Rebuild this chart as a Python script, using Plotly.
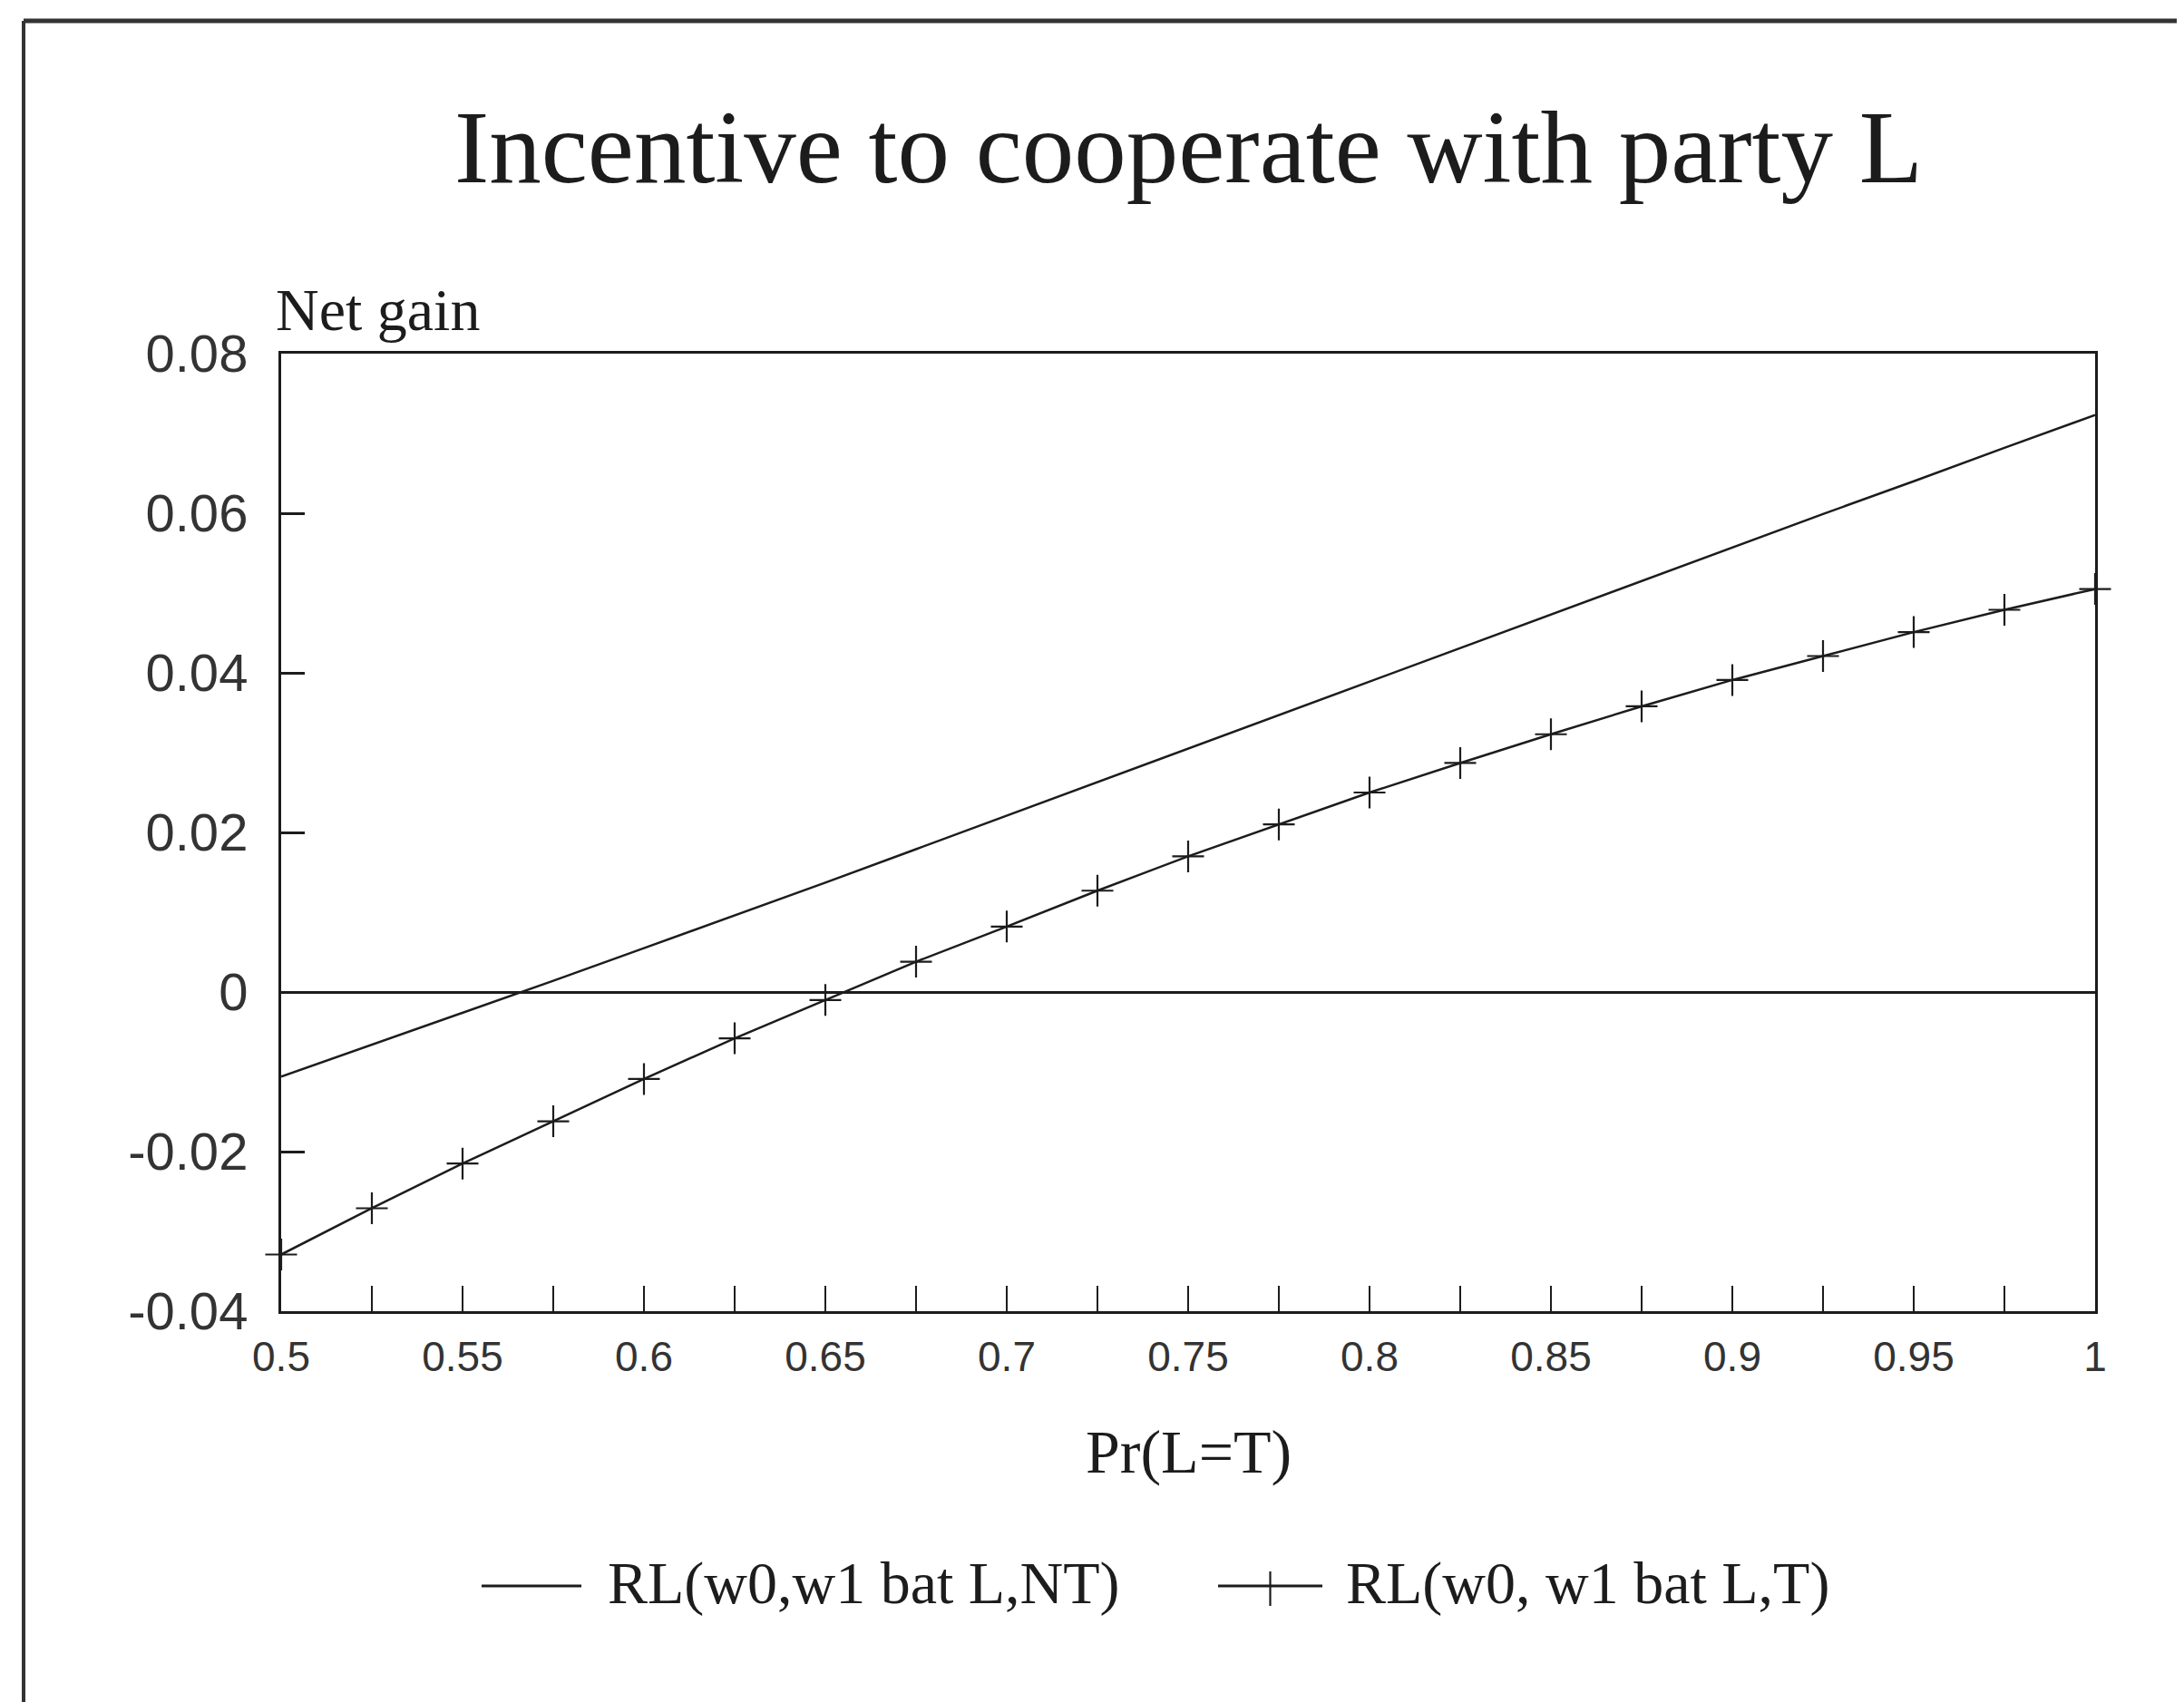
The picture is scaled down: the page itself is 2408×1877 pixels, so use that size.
import plotly.graph_objects as go

# ---- data ----
pr_lt = [0.5, 0.525, 0.55, 0.575, 0.6, 0.625, 0.65, 0.675, 0.7, 0.725, 0.75,
         0.775, 0.8, 0.825, 0.85, 0.875, 0.9, 0.925, 0.95, 0.975, 1.0]
rl_nt = [-0.0106, -0.0066, -0.0026, 0.0014, 0.0055, 0.0096, 0.0137, 0.0179, 0.0221,
         0.0263, 0.0305, 0.0347, 0.0389, 0.0431, 0.0473, 0.0515, 0.0557, 0.0599,
         0.0640, 0.0682, 0.0723]
rl_t = [-0.0329, -0.0271, -0.0215, -0.0162, -0.0109, -0.0058, -0.0010, 0.0038, 0.0082,
        0.0127, 0.0170, 0.0210, 0.0250, 0.0287, 0.0323, 0.0358, 0.0391, 0.0421,
        0.0451, 0.0479, 0.0505]
series_names = ["RL(w0,w1 bat L,NT)", "RL(w0, w1 bat L,T)"]

x_tickvals = [0.5, 0.525, 0.55, 0.575, 0.6, 0.625, 0.65, 0.675, 0.7, 0.725, 0.75,
              0.775, 0.8, 0.825, 0.85, 0.875, 0.9, 0.925, 0.95, 0.975, 1.0]
x_ticktext = ["0.5", "", "0.55", "", "0.6", "", "0.65", "", "0.7", "", "0.75",
              "", "0.8", "", "0.85", "", "0.9", "", "0.95", "", "1"]
y_tickvals = [-0.04, -0.02, 0.0, 0.02, 0.04, 0.06, 0.08]
y_ticktext = ["-0.04", "-0.02", "0", "0.02", "0.04", "0.06", "0.08"]

title_text = "Incentive to cooperate with party L"
y_title = "Net gain"
x_title = "Pr(L=T)"

SERIF = "Liberation Serif"
SANS = "Liberation Sans"
INK = "#1c1c1c"

fig = go.Figure()
fig.add_trace(go.Scatter(
    x=pr_lt, y=rl_nt, mode="lines", name=series_names[0], showlegend=False,
    line=dict(color=INK, width=2.5), cliponaxis=False))
fig.add_trace(go.Scatter(
    x=pr_lt, y=rl_t, mode="lines+markers", name=series_names[1], showlegend=False,
    line=dict(color=INK, width=2.5),
    marker=dict(symbol="cross-thin", size=25, color=INK,
                line=dict(color=INK, width=2.2)),
    cliponaxis=False))

fig.update_layout(
    width=2408, height=1877, autosize=False,
    margin=dict(l=302, r=106, t=382, b=439),
    paper_bgcolor="white", plot_bgcolor="white",
    font=dict(family=SERIF, color=INK),
)

fig.update_xaxes(
    range=[0.5, 1.0], showgrid=False, zeroline=False,
    showline=True, linecolor=INK, linewidth=3, mirror=True,
    tickmode="array", tickvals=x_tickvals, ticktext=x_ticktext,
    ticks="inside", ticklen=28, tickwidth=2, tickcolor=INK,
    ticklabelstandoff=8,
    tickfont=dict(family=SANS, size=46, color="#333333"),
)
fig.update_yaxes(
    range=[-0.04, 0.08], showgrid=False,
    zeroline=True, zerolinecolor=INK, zerolinewidth=3,
    showline=True, linecolor=INK, linewidth=3, mirror=True,
    tickmode="array", tickvals=y_tickvals, ticktext=y_ticktext,
    ticks="inside", ticklen=26, tickwidth=2.5, tickcolor=INK,
    ticklabelstandoff=22,
    tickfont=dict(family=SANS, size=58, color="#333333"),
)

# ---- legend (key samples + labels) ----
leg_y = -0.2869          # key line level (paper)
leg_text_y = -0.284
key1 = (0.1105, 0.1655)
key2 = (0.5165, 0.574)
text_x = [0.179, 0.586]

annotations = [
    dict(text=title_text, x=0.5, y=1.215, xref="paper", yref="paper",
         xanchor="center", yanchor="middle", showarrow=False,
         font=dict(family=SERIF, size=115, color=INK)),
    dict(text=y_title, x=-0.004, y=1.0464, xref="paper", yref="paper",
         xanchor="left", yanchor="middle", showarrow=False,
         font=dict(family=SERIF, size=66, color=INK)),
    dict(text=x_title, x=0.5, y=-0.1468, xref="paper", yref="paper",
         xanchor="center", yanchor="middle", showarrow=False,
         font=dict(family=SERIF, size=68, color=INK)),
    dict(text=series_names[0], x=text_x[0], y=leg_text_y, xref="paper", yref="paper",
         xanchor="left", yanchor="middle", showarrow=False,
         font=dict(family=SERIF, size=66, color=INK)),
    dict(text=series_names[1], x=text_x[1], y=leg_text_y, xref="paper", yref="paper",
         xanchor="left", yanchor="middle", showarrow=False,
         font=dict(family=SERIF, size=66, color=INK)),
]
fig.update_layout(annotations=annotations)

shapes = [
    # legend key lines
    dict(type="line", xref="paper", yref="paper", x0=key1[0], x1=key1[1],
         y0=leg_y, y1=leg_y, line=dict(color=INK, width=3)),
    dict(type="line", xref="paper", yref="paper", x0=key2[0], x1=key2[1],
         y0=leg_y, y1=leg_y, line=dict(color=INK, width=3)),
    dict(type="line", xref="paper", yref="paper",
         x0=(key2[0] + key2[1]) / 2, x1=(key2[0] + key2[1]) / 2,
         y0=-0.2718, y1=-0.3078, line=dict(color=INK, width=2.2)),
    # page border of the scanned sheet (left and top edges)
    dict(type="line", xref="paper", yref="paper", x0=-0.142, x1=-0.142,
         y0=-0.4157, y1=1.3475, line=dict(color="#333333", width=4)),
    dict(type="line", xref="paper", yref="paper", x0=-0.142, x1=1.053,
         y0=1.3475, y1=1.3475, line=dict(color="#333333", width=5)),
]
fig.update_layout(shapes=shapes)

fig.write_html("out.html")
